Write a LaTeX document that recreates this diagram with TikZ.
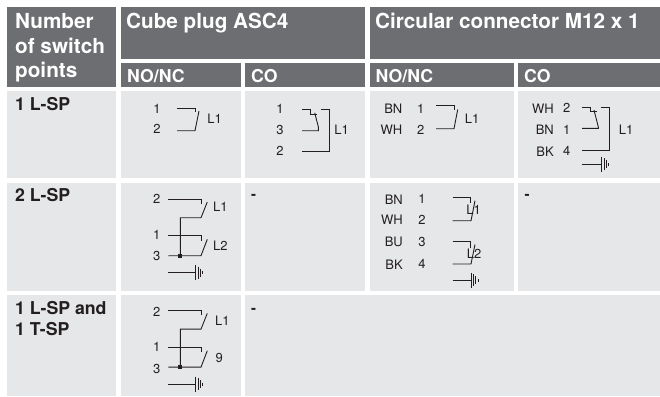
\documentclass[tikz,border=0pt]{standalone}
\usepackage{fontspec}
\setmainfont{TeX Gyre Heros}
\definecolor{headgray}{HTML}{6D6E71}
\definecolor{cellgray}{HTML}{E6E7E8}
\definecolor{inkgray}{HTML}{231F20}
\tikzset{
	head/.style={anchor=base west,inner sep=0pt,text=white,font=\bfseries\fontsize{20.7}{24}\selectfont},
	subhead/.style={anchor=base west,inner sep=0pt,text=white,font=\bfseries\fontsize{17.7}{20}\selectfont},
	rowlabel/.style={anchor=base west,inner sep=0pt,text=inkgray,font=\bfseries\fontsize{17.7}{20}\selectfont},
	pinlabel/.style={inner sep=0pt,text=inkgray,font=\fontsize{13}{15}\selectfont},
	wirename/.style={pinlabel,anchor=east},
	dashlabel/.style={inner sep=0pt,text=inkgray,font=\bfseries\fontsize{15}{15}\selectfont},
	wire/.style={line width=0.9pt,inkgray}
}
\begin{document}
\begin{tikzpicture}[x=1pt,y=-1pt]
	\useasboundingbox (0,0) rectangle (660,396);
	
	% Header cells
	\foreach \xa/\ya/\xb/\yb in {7/7/116/87,120.7/7/365/59,369.5/7/660/59,121/63/241/87,245/63/365/87,369.5/63/514/87,518/63/660/87}
		\fill[headgray] (\xa,\ya) rectangle (\xb,\yb);
	
	% Body cells
	\foreach \xa/\ya/\xb/\yb in {7/91/116/178,120.7/91/241/178,245/91/365/178,369.5/91/514/178,518/91/660/178,
		7/182.5/116/291,120.7/182.5/241/291,245/182.5/365/291,369.5/182.5/514/291,518/182.5/660/291,
		7/295/116/396,120.7/295/241/396,245/295/660/396}
		\fill[cellgray] (\xa,\ya) rectangle (\xb,\yb);
	
	% Header texts
	\node[head] (number) at (15,28.3) {Number};
	\node[head] (ofswitch) at (15,53) {of switch};
	\node[head] (points) at (15,77.7) {points};
	\node[head] (cube) at (126,28.3) {Cube plug ASC4};
	\node[head] (circular) at (375,28.3) {Circular connector M12 x 1};
	\node[subhead] (cubeno) at (127,82) {NO/NC};
	\node[subhead] (cubeco) at (251,82) {CO};
	\node[subhead] (circno) at (375.5,82) {NO/NC};
	\node[subhead] (circco) at (524,82) {CO};
	
	% Row labels
	\node[rowlabel] (rowa) at (15,110) {1 L-SP};
	\node[rowlabel] (rowb) at (15,201) {2 L-SP};
	\node[rowlabel] (rowc) at (15,314) {1 L-SP and};
	\node[rowlabel] (rowd) at (15,335.5) {1 T-SP};
	
	% Empty cells
	\node[dashlabel] (dasha) at (253.5,197) {-};
	\node[dashlabel] (dashb) at (527,197) {-};
	\node[dashlabel] (dashc) at (253.5,310.5) {-};
	
	% Cube plug, NO/NC
	\node[pinlabel] (ca1) at (157,108.7) {1};
	\node[pinlabel] (ca2) at (157,129.3) {2};
	\node[pinlabel] (cal) at (214.7,118.3) {L1};
	\draw[wire] (177,108) -- (195,108) -- (195,112);
	\draw[wire] (199,111) -- (195,130.7) -- (177,130.7);
	
	% Cube plug, CO
	\node[pinlabel] (cb1) at (280,108.7) {1};
	\node[pinlabel] (cb3) at (280,129.7) {3};
	\node[pinlabel] (cb2) at (280,151) {2};
	\node[pinlabel] (cbl) at (341.7,129.7) {L1};
	\draw[wire] (302,109.3) -- (310,109.3) -- (310,114) -- (317.3,114);
	\draw[wire] (314.7,112.7) -- (318.3,126.7) -- (318.3,130.7) -- (302,130.7);
	\draw[wire] (321,109.3) -- (329,109.3) -- (329,151.7) -- (302,151.7);
	
	% Circular connector, NO/NC
	\node[wirename] (da1) at (402.5,108.7) {BN};
	\node[wirename] (da2) at (402.5,129.5) {WH};
	\node[pinlabel] (dn1) at (420.7,108.7) {1};
	\node[pinlabel] (dn2) at (420.7,129.5) {2};
	\node[pinlabel] (dal) at (472,118.7) {L1};
	\draw[wire] (436,105.7) -- (454.3,105.7) -- (454.3,110);
	\draw[wire] (457.7,109.5) -- (454,128.7) -- (436,128.7);
	
	% Circular connector, CO
	\node[wirename] (db1) at (554,108.3) {WH};
	\node[wirename] (db2) at (554,129.7) {BN};
	\node[wirename] (db3) at (554,151.3) {BK};
	\node[pinlabel] (dm1) at (566.7,108.3) {2};
	\node[pinlabel] (dm2) at (566.7,129.7) {1};
	\node[pinlabel] (dm3) at (566.7,151.3) {4};
	\node[pinlabel] (dbl) at (626,130) {L1};
	\draw[wire] (582,107) -- (590,107) -- (590,111) -- (597,111);
	\draw[wire] (594,110) -- (598.3,127) -- (598.3,128.3) -- (582,128.3);
	\draw[wire] (600.7,107) -- (609,107) -- (609,150) -- (582,150);
	
	% Cube plug, two switch points
	\node[pinlabel] (ea2) at (156.7,199.3) {2};
	\node[pinlabel] (ea1) at (156.7,235) {1};
	\node[pinlabel] (ea3) at (156.7,256) {3};
	\node[pinlabel] (eal) at (220.3,206.7) {L1};
	\node[pinlabel] (ebl) at (220.3,245.7) {L2};
	
	% Cube plug, switch point and temperature
	\node[pinlabel] (fa2) at (156.7,312.3) {2};
	\node[pinlabel] (fa1) at (156.7,347) {1};
	\node[pinlabel] (fa3) at (156.7,369) {3};
	\node[pinlabel] (fal) at (222.3,320.3) {L1};
	\node[pinlabel] (fbl) at (219.3,358.3) {9};
	
	% Both share one drawing
	\foreach \dy in {0,111.4} {
		\begin{scope}[shift={(0,\dy)}]
			\draw[wire] (168.3,199.3) -- (201.7,199.3) -- (201.7,204);
			\draw[wire] (207.3,202) -- (201,217.7) -- (180.3,217.7) -- (180.3,255.7);
			\draw[wire] (168.3,235.7) -- (201.7,235.7) -- (201.7,240.7);
			\draw[wire] (207.3,239.3) -- (201,255.7) -- (168.3,255.7);
			\fill[inkgray] (178.3,253.7) rectangle (182.3,257.7);
		\end{scope}
	}
	
	% Circular connector, two switch points
	\node[wirename] (ga1) at (403,199.3) {BN};
	\node[wirename] (ga2) at (403,220) {WH};
	\node[wirename] (ga3) at (403,242.3) {BU};
	\node[wirename] (ga4) at (403,264.3) {BK};
	\node[pinlabel] (gn1) at (422,199.3) {1};
	\node[pinlabel] (gn2) at (422,220) {2};
	\node[pinlabel] (gn3) at (422,242.3) {3};
	\node[pinlabel] (gn4) at (422,264.3) {4};
	\node[pinlabel] (gal) at (473.5,209.3) {L1};
	\node[pinlabel] (gbl) at (474,253.3) {L2};
	\draw[wire] (452.7,197.3) -- (470.3,197.3) -- (470.3,203.3);
	\draw[wire] (475,200.7) -- (471,220.7) -- (452.7,220.7);
	\draw[wire] (452.7,241) -- (470.3,241) -- (470.3,248);
	\draw[wire] (475,244.5) -- (471,264) -- (452.7,264);
	
	% Ground symbols
	\foreach \xa/\xb/\gy in {581.7/601.7/164,168.3/195.7/272.7,168.3/195.7/384.1,452.7/471/280} {
		\draw[wire] (\xa,\gy) -- (\xb,\gy);
		\draw[wire] (\xb,\gy-7.5) -- ++(0,15);
		\draw[wire] (\xb+2.4,\gy-6) -- ++(0,12);
		\draw[wire] (\xb+4.8,\gy-4) -- ++(0,8);
		\draw[wire] (\xb+7.2,\gy-1.5) -- ++(0,3);
	}
\end{tikzpicture}
\end{document}
